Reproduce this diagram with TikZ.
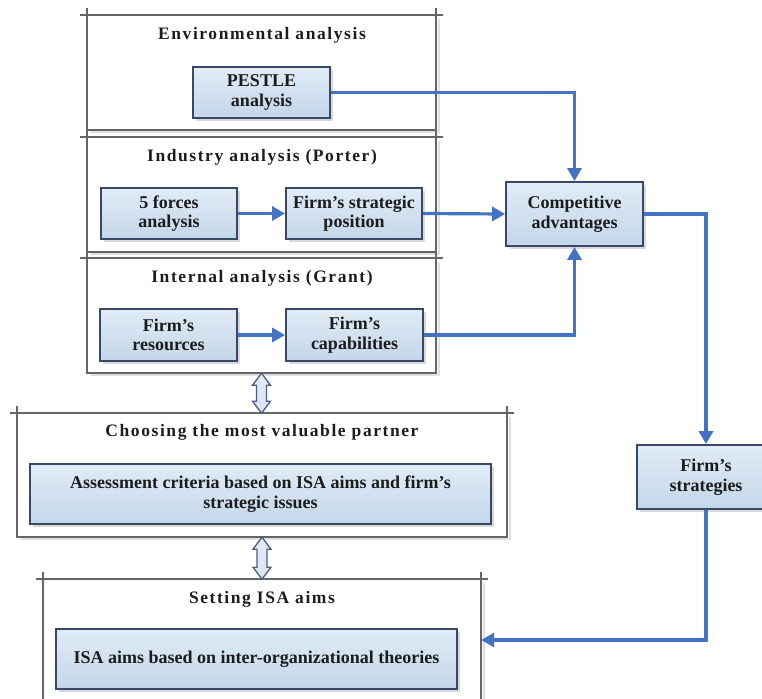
\documentclass[tikz,border=0pt]{standalone}
\usepackage{fontspec}
\setmainfont{Liberation Serif}
\newfontfamily\titlefont{Liberation Serif}[LetterSpace=9]
\usetikzlibrary{arrows.meta,shadows,calc}
\definecolor{connblue}{HTML}{4472C4}
\definecolor{boxedge}{HTML}{3A4868}
\definecolor{boxtop}{HTML}{E1ECF6}
\definecolor{boxbot}{HTML}{C3D6E9}
\definecolor{contgray}{HTML}{666666}
\definecolor{txt}{HTML}{1C1C1C}
\definecolor{dblfill}{HTML}{D8E4F0}
\definecolor{dbledge}{HTML}{4D5E80}
\tikzset{
  ibox/.style={draw=boxedge, line width=1.8pt, top color=boxtop, bottom color=boxbot,
    drop shadow={shadow xshift=2.5pt, shadow yshift=-2.5pt, opacity=0.25, fill=black!60},
    inner sep=0pt, align=center, text=txt,
    font=\bfseries\fontsize{18}{19.5}\selectfont},
  cont/.style={inner sep=0pt, draw=none},
  ctitle/.style={inner sep=0pt, text=txt, font=\titlefont\bfseries\fontsize{17.5}{20}\selectfont},
  contline/.style={draw=contgray, line width=1.5pt},
  contshade/.style={draw=black!12, line width=2.5pt},
  conn/.style={draw=connblue, line width=3.2pt, -{Triangle[width=14pt,length=13pt]}},
  dbl/.style={draw=dbledge, line width=1.3pt, top color=boxtop, bottom color=dblfill, line join=miter},
}
\newcommand\container[1]{%
  \draw[contshade] ($(#1.north east)+(3pt,-4pt)$) -- ($(#1.south east)+(3pt,-2pt)$) -- ($(#1.south west)+(4pt,-2pt)$);
  \draw[contline] ($(#1.north west)+(-7pt,0)$) -- ($(#1.north east)+(7pt,0)$);
  \draw[contline] ($(#1.north west)+(0,7pt)$) -- (#1.south west) -- (#1.south east) -- ($(#1.north east)+(0,7pt)$);
}
\newcommand\dblarrow[2]{% start anchor, length
  \draw[dbl, shift={(#1)}] (0,0) -- (9,12) -- (5,12) -- (5,#2-12) -- (9,#2-12) -- (0,#2)
    -- (-9,#2-12) -- (-5,#2-12) -- (-5,12) -- (-9,12) -- cycle;
}
\begin{document}
\begin{tikzpicture}[x=1pt,y=-1pt]
\useasboundingbox (0,0) rectangle (762,698);
% containers
\node[cont, minimum width=349pt, minimum height=115pt] (env) at (261.5,72.5) {};
\node[cont, minimum width=349pt, minimum height=115pt] (ind) at (261.5,194.5) {};
\node[cont, minimum width=349pt, minimum height=115pt] (int) at (261.5,315.5) {};
\node[cont, minimum width=490pt, minimum height=124pt] (cho) at (262,475) {};
\node[cont, minimum width=438pt, minimum height=122pt] (set) at (262,640) {};
\container{env}
\container{ind}
\container{int}
\container{cho}
\container{set}
% titles
\node[ctitle] (tenv) at (262,35) {Environmental analysis};
\node[ctitle] (tind) at (262,157) {Industry analysis (Porter)};
\node[ctitle] (tint) at (262,278) {Internal analysis (Grant)};
\node[ctitle] (tcho) at (262,432) {Choosing the most valuable partner};
\node[ctitle] (tset) at (262,599) {Setting ISA aims};
% inner boxes
\node[ibox, minimum width=137pt, minimum height=51pt] (pestle) at (261.5,92.5) {PESTLE\\analysis};
\node[ibox, minimum width=136pt, minimum height=51pt] (five) at (169,213.5) {5 forces\\analysis};
\node[ibox, minimum width=136pt, minimum height=51pt] (pos) at (354,213.5) {Firm’s strategic\\position};
\node[ibox, minimum width=137pt, minimum height=52pt] (res) at (168.5,335) {Firm’s\\resources};
\node[ibox, minimum width=137pt, minimum height=52pt] (cap) at (354.5,335) {Firm’s\\capabilities};
\node[ibox, minimum width=461pt, minimum height=60pt] (ass) at (260.5,494) {Assessment criteria based on ISA aims and firm’s\\strategic issues};
\node[ibox, minimum width=401pt, minimum height=60pt] (isa) at (256.5,659) {ISA aims based on inter-organizational theories};
\node[ibox, minimum width=137pt, minimum height=64pt] (comp) at (574.5,214) {Competitive\\advantages};
\node[ibox, minimum width=138pt, minimum height=64pt] (strat) at (706,477) {Firm’s\\strategies};
% connectors
\draw[conn] (pestle.east) -| (comp.north);
\draw[conn] (five.east) -- (pos.west);
\draw[conn] (pos.east) -- (comp.west);
\draw[conn] (res.east) -- (cap.west);
\draw[conn] (cap.east) -| (comp.south);
\draw[conn] (comp.east) -| (strat.north);
\draw[conn] (strat.south) |- (set.east);
% double arrows
\dblarrow{int.south}{40}
\dblarrow{cho.south}{42}
\end{tikzpicture}
\end{document}
